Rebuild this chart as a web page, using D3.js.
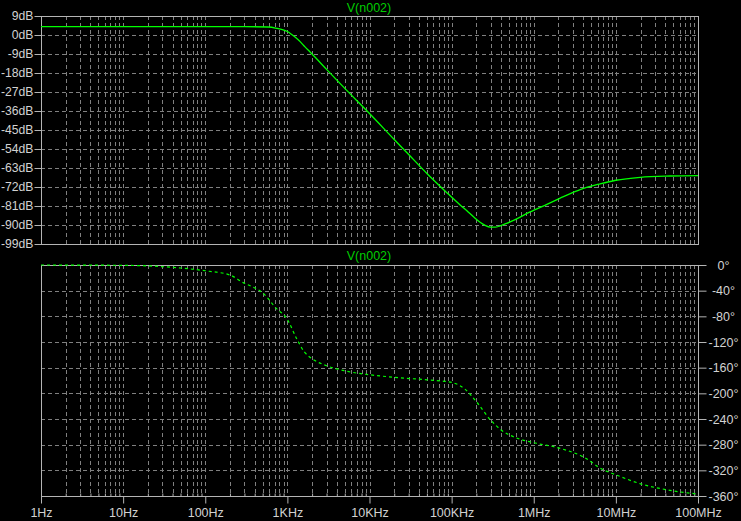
<!DOCTYPE html>
<html>
<head>
<meta charset="utf-8">
<script src="https://cdn.jsdelivr.net/npm/d3@7"></script>
<style>
  html, body { margin: 0; padding: 0; background: #000; }
  svg { display: block; }
  text { font-family: "Liberation Sans", Arial, sans-serif; }
</style>
</head>
<body>
<svg id="chart" width="741" height="521"></svg>
<script>
// ---- data ----
const freqTicks  = [1, 10, 100, 1e3, 1e4, 1e5, 1e6, 1e7, 1e8];
const freqLabels = ["1Hz", "10Hz", "100Hz", "1KHz", "10KHz", "100KHz", "1MHz", "10MHz", "100MHz"];
const dbTicks  = [9, 0, -9, -18, -27, -36, -45, -54, -63, -72, -81, -90, -99];
const degTicks = [0, -40, -80, -120, -160, -200, -240, -280, -320, -360];
const traceName = "V(n002)";

const magFreq = [1, 10, 100, 300, 582, 750, 887, 1000, 1075, 1240, 1430, 1640, 1890, 2180, 3000, 5000, 1e4, 2e4, 3e4, 5e4, 8.81e4, 1.27e5, 1.59e5, 1.93e5, 2.22e5, 2.56e5, 2.94e5, 3.39e5, 3.9e5, 4.7e5, 5.66e5, 9.04e5, 1.446e6, 2.3e6, 3.67e6, 6.44e6, 1e7, 1.98e7, 4.59e7, 1e8];
const magDb   = [4.0, 4.0, 4.0, 3.95, 3.79, 3.13, 2.42, 1.66, 0.85, -0.95, -3.13, -5.64, -8.05, -10.56, -16.3, -25.3, -37.2, -49.5, -56.6, -65.6, -74.8, -80.5, -83.8, -86.8, -88.7, -90.2, -91.0, -91.0, -90.4, -89.2, -87.8, -83.8, -80.2, -76.6, -73.2, -70.5, -68.8, -67.4, -66.8, -66.6];

const phaseFreq = [1, 10, 50, 100, 200, 290, 404, 506, 598, 700, 1000, 1300, 1600, 2000, 3000, 5000, 1e4, 2e4, 5e4, 1e5, 1.5e5, 2e5, 3e5, 4e5, 6e5, 1e6, 2e6, 4e6, 7e6, 1e7, 2e7, 5e7, 1e8];
const phaseDeg  = [0, -0.5, -4.7, -9, -15.6, -27.5, -36, -44, -54, -65, -85, -115, -135, -146, -157, -165, -171, -175, -179, -183, -195, -213, -242, -257, -269, -277, -285, -299, -319, -327, -341, -352, -357];

// ---- layout ----
const svg = d3.select("#chart");
const L = 41, R = 698;
const magTop = 16, magBot = 244;
const phTop = 265, phBot = 496;
const gridCol = "#808080", frameCol = "#b4b4b4", textCol = "#d2d2d2";
const green = "#00ff00", titleGreen = "#00cc00";

const x = d3.scaleLog().domain([1, 1e8]).range([L, R]);
const yMag = d3.scaleLinear().domain([-99, 9]).range([magBot, magTop]);
const yPh = d3.scaleLinear().domain([-360, 0]).range([phBot, phTop]);

svg.append("rect").attr("width", 741).attr("height", 521).attr("fill", "#000");

// vertical grid values (decades and 2..9 minors), excluding frame edges
const minorFreqs = [];
for (let k = 0; k < 8; k++) for (let d = 1; d <= 9; d++) {
  const f = d * Math.pow(10, k);
  if (f > 1 && f < 1e8) minorFreqs.push(f);
}

function grid(yScale, top, bot, ticks) {
  const g = svg.append("g").attr("stroke", gridCol).attr("stroke-width", 1)
    .attr("stroke-dasharray", "4,3").attr("fill", "none");
  g.selectAll(".v").data(minorFreqs).join("line")
    .attr("x1", d => Math.round(x(d)) + 0.5).attr("x2", d => Math.round(x(d)) + 0.5)
    .attr("y1", top).attr("y2", bot);
  g.selectAll(".h").data(ticks.filter(t => yScale(t) > top + 1 && yScale(t) < bot - 1)).join("line")
    .attr("x1", L).attr("x2", R)
    .attr("y1", d => Math.round(yScale(d)) + 0.5).attr("y2", d => Math.round(yScale(d)) + 0.5);
}
grid(yMag, magTop, magBot, dbTicks);
grid(yPh, phTop, phBot, degTicks);

// frames
function frame(top, bot) {
  svg.append("rect").attr("x", L + 0.5).attr("y", top + 0.5)
    .attr("width", R - L).attr("height", bot - top)
    .attr("fill", "none").attr("stroke", frameCol).attr("stroke-width", 1);
}
frame(magTop, magBot);
frame(phTop, phBot);

// magnitude axis (left)
const magAxis = svg.append("g").attr("transform", `translate(${L + 0.5},0)`)
  .call(d3.axisLeft(yMag).tickValues(dbTicks).tickFormat(d => d + "dB").tickSize(7).tickPadding(1));
magAxis.select(".domain").remove();
magAxis.selectAll(".tick line").attr("stroke", frameCol);
magAxis.selectAll("text").attr("fill", textCol).attr("font-size", "12.2px")
  .attr("font-family", "Liberation Sans, Arial, sans-serif");

// phase axis (right)
const phAxis = svg.append("g").attr("transform", `translate(${R + 0.5},0)`)
  .call(d3.axisRight(yPh).tickValues(degTicks).tickFormat(d => d + "°").tickSize(8).tickPadding(2));
phAxis.select(".domain").remove();
phAxis.selectAll(".tick line").attr("stroke", frameCol);
phAxis.selectAll("text").attr("fill", textCol).attr("font-size", "12.5px")
  .attr("font-family", "Liberation Sans, Arial, sans-serif")
  .attr("text-anchor", "middle").attr("x", 25);

// frequency axis (bottom)
const fAxis = svg.append("g").attr("transform", `translate(0,${phBot + 0.5})`)
  .call(d3.axisBottom(x).tickValues(freqTicks).tickFormat((d, i) => freqLabels[i]).tickSize(7).tickPadding(3));
fAxis.select(".domain").remove();
fAxis.selectAll(".tick line").attr("stroke", frameCol);
fAxis.selectAll("text").attr("fill", textCol).attr("font-size", "12.5px")
  .attr("font-family", "Liberation Sans, Arial, sans-serif")
  .attr("y", 20).attr("dy", null);
const fMinor = svg.append("g").attr("transform", `translate(0,${phBot + 0.5})`)
  .call(d3.axisBottom(x).tickValues(minorFreqs.filter(f => ![10,100,1e3,1e4,1e5,1e6,1e7].includes(f))).tickFormat("").tickSize(-3));
fMinor.select(".domain").remove();
fMinor.selectAll(".tick line").attr("stroke", frameCol);

// titles
svg.append("text").attr("x", 369).attr("y", 12).attr("text-anchor", "middle")
  .attr("fill", titleGreen).attr("font-size", "12.5px").text(traceName);
svg.append("text").attr("x", 369).attr("y", 260).attr("text-anchor", "middle")
  .attr("fill", titleGreen).attr("font-size", "12.5px").text(traceName);

// traces
const magData = magFreq.map((f, i) => [f, magDb[i]]);
const phData = phaseFreq.map((f, i) => [f, phaseDeg[i]]);

svg.append("path").datum(magData)
  .attr("fill", "none").attr("stroke", green).attr("stroke-width", 1.3)
  .attr("d", d3.line().x(d => x(d[0])).y(d => yMag(d[1])).curve(d3.curveMonotoneX));

svg.append("path").datum(phData)
  .attr("fill", "none").attr("stroke", green).attr("stroke-width", 1.2)
  .attr("stroke-dasharray", "3,3")
  .attr("d", d3.line().x(d => x(d[0])).y(d => yPh(d[1])).curve(d3.curveMonotoneX));
</script>
</body>
</html>
